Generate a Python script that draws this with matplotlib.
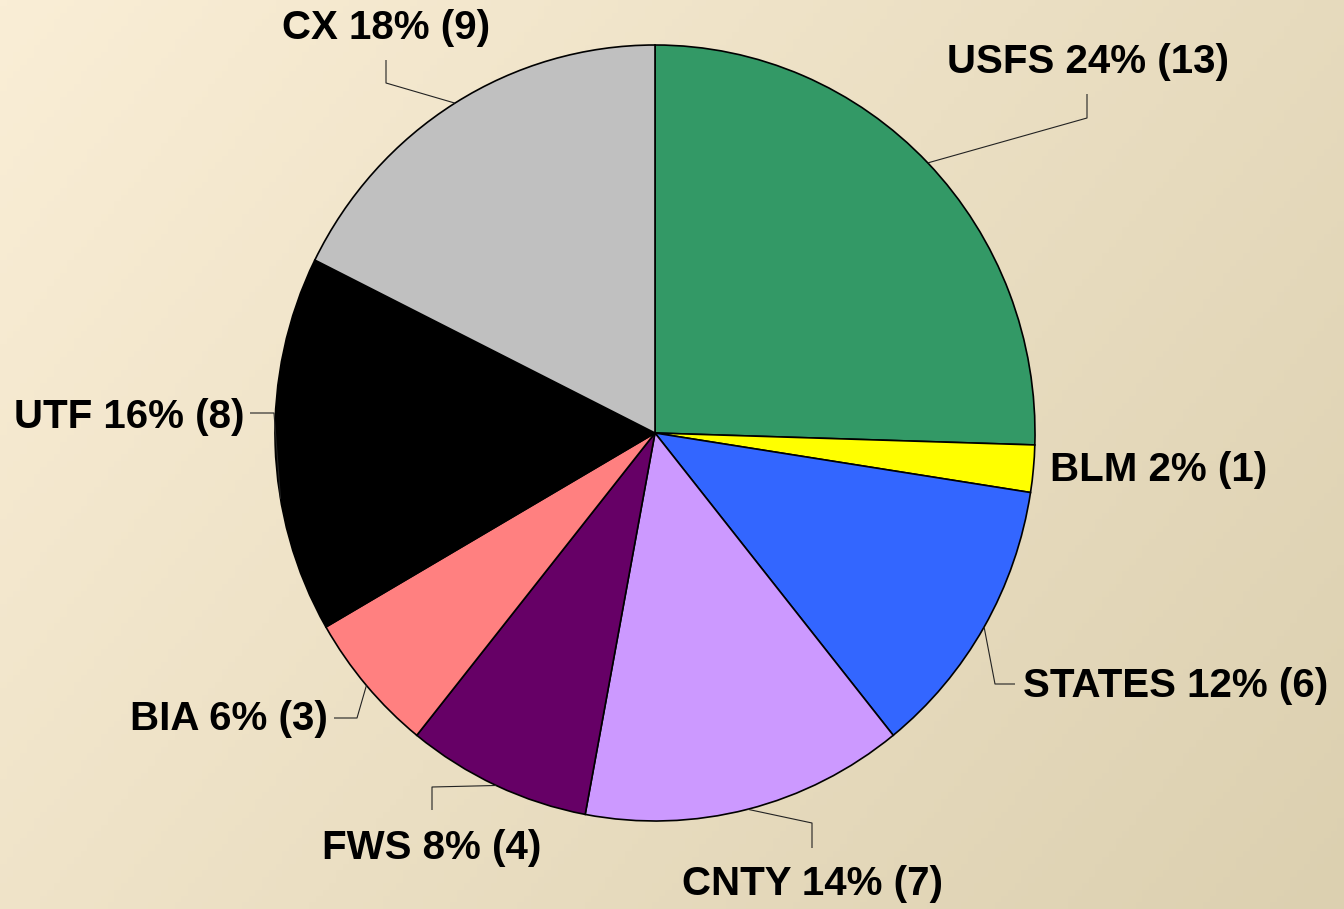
import numpy as np
import matplotlib.pyplot as plt

# data
labels = ['USFS', 'BLM', 'STATES', 'CNTY', 'FWS', 'BIA', 'UTF', 'CX']
counts = [13, 1, 6, 7, 4, 3, 8, 9]
pct_text = ['24%', '2%', '12%', '14%', '8%', '6%', '16%', '18%']
colors = ['#339966', '#FFFF00', '#3366FF', '#CC99FF', '#660066', '#FF8080', '#000000', '#C0C0C0']

W, H = 1344, 909
cx, cy, rx, ry = 655, 433, 380, 388

# label layout in pixel coords: (elbow, end of leader, text pos, ha)
layout = {
    'USFS':   ((1087, 118), (1087, 94), (1088, 62), 'center'),
    'BLM':    (None, None, (1050, 470), 'left'),
    'STATES': ((995, 684), (1015, 684), (1023, 686), 'left'),
    'CNTY':   ((812, 823), (812, 848), (812, 884), 'center'),
    'FWS':    ((432, 787), (432, 810), (432, 848), 'center'),
    'BIA':    ((357, 718), (334, 718), (328, 719), 'right'),
    'UTF':    ((274, 413), (250, 413), (244, 417), 'right'),
    'CX':     ((386, 83), (386, 60), (386, 28), 'center'),
}
anchor_shift = {'UTF': 8.0}

fig = plt.figure(figsize=(W / 100, H / 100), dpi=100)

# background gradient
bg = fig.add_axes([0, 0, 1, 1], zorder=0)
xx, yy = np.meshgrid(np.linspace(0, 1, 200), np.linspace(0, 1, 140))
t = (0.65 * xx + 0.35 * yy)
c0 = np.array([250, 238, 214]) / 255
c1 = np.array([220, 208, 176]) / 255
img = c0[None, None, :] * (1 - t[..., None]) + c1[None, None, :] * t[..., None]
bg.imshow(img, extent=[0, W, H, 0], aspect='auto')
bg.set_xlim(0, W)
bg.set_ylim(H, 0)
bg.axis('off')

# pie (slightly elliptical like the original)
pax = fig.add_axes([(cx - rx) / W, (H - cy - ry) / H, 2 * rx / W, 2 * ry / H], zorder=1)
wedges, _ = pax.pie(counts, colors=colors, startangle=90, counterclock=False,
                    wedgeprops=dict(edgecolor='black', linewidth=1.2))
pax.set_aspect('auto')
pax.set_xlim(-1, 1)
pax.set_ylim(-1, 1)
pax.axis('off')

# overlay for labels
ax = fig.add_axes([0, 0, 1, 1], zorder=2)
ax.set_xlim(0, W)
ax.set_ylim(H, 0)
ax.axis('off')

for w, lab, n, p in zip(wedges, labels, counts, pct_text):
    mid = np.deg2rad((w.theta1 + w.theta2) / 2 + anchor_shift.get(lab, 0))
    px = cx + rx * np.cos(mid)
    py = cy - ry * np.sin(mid)
    elbow, end, tpos, ha = layout[lab]
    if elbow is not None:
        ax.plot([px, elbow[0], end[0]], [py, elbow[1], end[1]],
                color='#222222', lw=0.8, solid_capstyle='butt')
    ax.text(tpos[0], tpos[1], f'{lab} {p} ({n})', ha=ha, va='center',
            fontsize=29, fontweight='bold', family='Liberation Sans', color='black')

fig.savefig('out.png', dpi=100)
